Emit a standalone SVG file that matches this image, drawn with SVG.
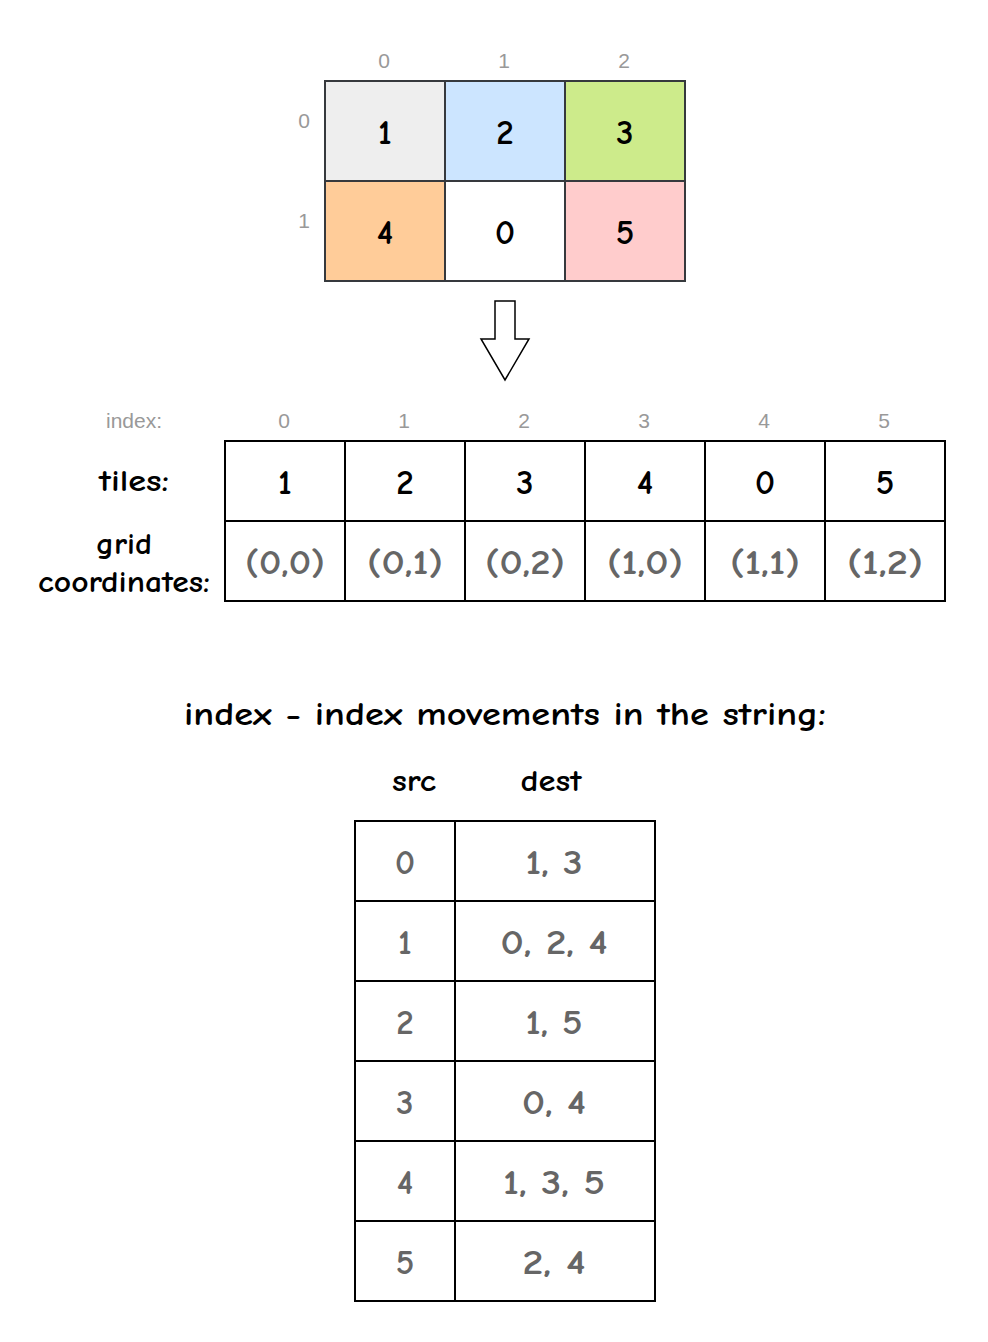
<svg xmlns="http://www.w3.org/2000/svg" width="988" height="1342" viewBox="0 0 988 1342">
<style>
.c{font-family:"Comic Sans MS","Comic Neue","Liberation Sans",sans-serif;text-anchor:middle;dominant-baseline:central;font-weight:bold}
.big{font-size:35px;fill:#000}
.gr{font-size:35px;fill:#666}
.lab{font-family:"Liberation Sans",Arial,sans-serif;font-size:21px;fill:#999;text-anchor:middle;dominant-baseline:central}
.cell{stroke:#36393d;stroke-width:2}
.tb{fill:#fff;stroke:#000;stroke-width:2}
.hd{font-size:30px;fill:#000}
</style>
<rect width="988" height="1342" fill="#fff"/>
<g id="grid">
<rect class="cell" x="325" y="81" width="120" height="100" fill="#eeeeee"/>
<rect class="cell" x="445" y="81" width="120" height="100" fill="#cce5ff"/>
<rect class="cell" x="565" y="81" width="120" height="100" fill="#cdeb8b"/>
<rect class="cell" x="325" y="181" width="120" height="100" fill="#ffcc99"/>
<rect class="cell" x="445" y="181" width="120" height="100" fill="#ffffff"/>
<rect class="cell" x="565" y="181" width="120" height="100" fill="#ffcccc"/>
<text class="c big" x="385" y="132">1</text>
<text class="c big" x="505" y="132">2</text>
<text class="c big" x="625" y="132">3</text>
<text class="c big" x="385" y="232">4</text>
<text class="c big" x="505" y="232">0</text>
<text class="c big" x="625" y="232">5</text>
<text class="lab" x="384" y="60">0</text>
<text class="lab" x="504" y="60">1</text>
<text class="lab" x="624" y="60">2</text>
<text class="lab" x="304" y="120">0</text>
<text class="lab" x="304" y="220">1</text>
</g>
<g id="arrow">
<polygon points="495,301 515,301 515,339 529,339 505,380 481,339 495,339" fill="#fff" stroke="#000" stroke-width="1.5"/>
</g>
<g id="tiles">
<text class="lab" x="134" y="420">index:</text>
<text class="c hd" x="134" y="481" textLength="70" lengthAdjust="spacingAndGlyphs">tiles:</text>
<text class="c hd" x="124" y="544" textLength="56" lengthAdjust="spacingAndGlyphs">grid</text>
<text class="c hd" x="124" y="582" textLength="172" lengthAdjust="spacingAndGlyphs">coordinates:</text>
<rect class="tb" x="225" y="441" width="120" height="80"/><rect class="tb" x="345" y="441" width="120" height="80"/><rect class="tb" x="465" y="441" width="120" height="80"/><rect class="tb" x="585" y="441" width="120" height="80"/><rect class="tb" x="705" y="441" width="120" height="80"/><rect class="tb" x="825" y="441" width="120" height="80"/>
<rect class="tb" x="225" y="521" width="120" height="80"/><rect class="tb" x="345" y="521" width="120" height="80"/><rect class="tb" x="465" y="521" width="120" height="80"/><rect class="tb" x="585" y="521" width="120" height="80"/><rect class="tb" x="705" y="521" width="120" height="80"/><rect class="tb" x="825" y="521" width="120" height="80"/>
<text class="lab" x="284" y="420">0</text><text class="lab" x="404" y="420">1</text><text class="lab" x="524" y="420">2</text><text class="lab" x="644" y="420">3</text><text class="lab" x="764" y="420">4</text><text class="lab" x="884" y="420">5</text>
<text class="c big" x="285" y="482">1</text><text class="c big" x="405" y="482">2</text><text class="c big" x="525" y="482">3</text><text class="c big" x="645" y="482">4</text><text class="c big" x="765" y="482">0</text><text class="c big" x="885" y="482">5</text>
<text class="c gr" x="285" y="562" textLength="80" lengthAdjust="spacingAndGlyphs">(0,0)</text><text class="c gr" x="405" y="562" textLength="76" lengthAdjust="spacingAndGlyphs">(0,1)</text><text class="c gr" x="525" y="562" textLength="80" lengthAdjust="spacingAndGlyphs">(0,2)</text><text class="c gr" x="645" y="562" textLength="76" lengthAdjust="spacingAndGlyphs">(1,0)</text><text class="c gr" x="765" y="562" textLength="70" lengthAdjust="spacingAndGlyphs">(1,1)</text><text class="c gr" x="885" y="562" textLength="76" lengthAdjust="spacingAndGlyphs">(1,2)</text>
</g>
<g id="moves">
<text class="c" x="505" y="714" font-size="33" fill="#000" textLength="642" lengthAdjust="spacingAndGlyphs">index - index movements in the string:</text>
<text class="c hd" x="414" y="781" textLength="44" lengthAdjust="spacingAndGlyphs">src</text>
<text class="c hd" x="551" y="781" textLength="61" lengthAdjust="spacingAndGlyphs">dest</text>
<rect class="tb" x="355" y="821" width="100" height="80"/><rect class="tb" x="455" y="821" width="200" height="80"/>
<rect class="tb" x="355" y="901" width="100" height="80"/><rect class="tb" x="455" y="901" width="200" height="80"/>
<rect class="tb" x="355" y="981" width="100" height="80"/><rect class="tb" x="455" y="981" width="200" height="80"/>
<rect class="tb" x="355" y="1061" width="100" height="80"/><rect class="tb" x="455" y="1061" width="200" height="80"/>
<rect class="tb" x="355" y="1141" width="100" height="80"/><rect class="tb" x="455" y="1141" width="200" height="80"/>
<rect class="tb" x="355" y="1221" width="100" height="80"/><rect class="tb" x="455" y="1221" width="200" height="80"/>
<text class="c gr" x="405" y="862">0</text><text class="c gr" x="554" y="862" textLength="57" lengthAdjust="spacingAndGlyphs">1, 3</text>
<text class="c gr" x="405" y="942">1</text><text class="c gr" x="554" y="942" textLength="107" lengthAdjust="spacingAndGlyphs">0, 2, 4</text>
<text class="c gr" x="405" y="1022">2</text><text class="c gr" x="554" y="1022" textLength="57" lengthAdjust="spacingAndGlyphs">1, 5</text>
<text class="c gr" x="405" y="1102">3</text><text class="c gr" x="554" y="1102" textLength="64" lengthAdjust="spacingAndGlyphs">0, 4</text>
<text class="c gr" x="405" y="1182">4</text><text class="c gr" x="554" y="1182" textLength="102" lengthAdjust="spacingAndGlyphs">1, 3, 5</text>
<text class="c gr" x="405" y="1262">5</text><text class="c gr" x="554" y="1262" textLength="63" lengthAdjust="spacingAndGlyphs">2, 4</text>
</g>
</svg>
